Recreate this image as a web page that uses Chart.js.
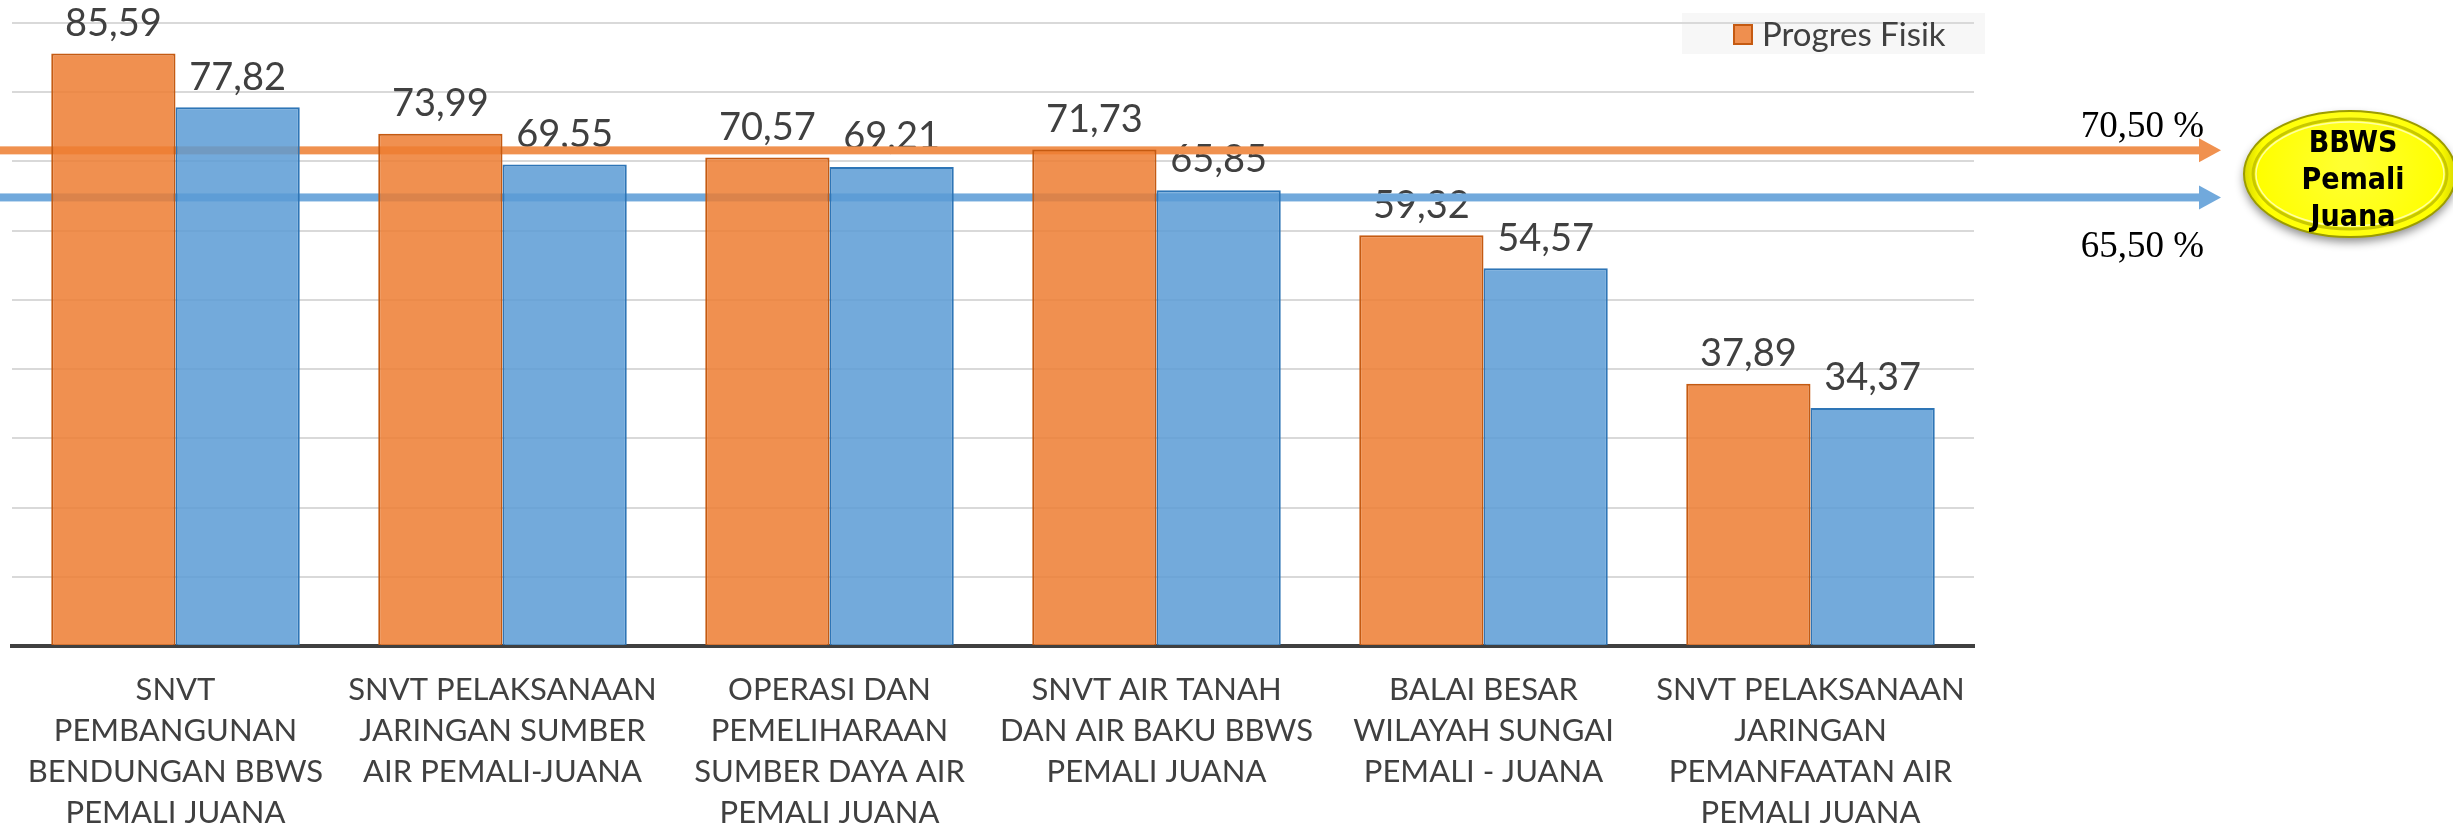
<!DOCTYPE html>
<html>
<head>
<meta charset="utf-8">
<script src="https://cdn.jsdelivr.net/npm/chart.js@4"></script>
<style>
  html, body { margin: 0; padding: 0; background: #fff; }
  #wrap { width: 2453px; height: 829px; position: relative; }
</style>
</head>
<body>
<div id="wrap"><canvas id="myChart"></canvas></div>
<script>
// ===== data
const units = [
  ['SNVT', 'PEMBANGUNAN', 'BENDUNGAN BBWS', 'PEMALI JUANA'],
  ['SNVT PELAKSANAAN', 'JARINGAN SUMBER', 'AIR PEMALI-JUANA'],
  ['OPERASI DAN', 'PEMELIHARAAN', 'SUMBER DAYA AIR', 'PEMALI JUANA'],
  ['SNVT AIR TANAH', 'DAN AIR BAKU BBWS', 'PEMALI JUANA'],
  ['BALAI BESAR', 'WILAYAH SUNGAI', 'PEMALI - JUANA'],
  ['SNVT PELAKSANAAN', 'JARINGAN', 'PEMANFAATAN AIR', 'PEMALI JUANA']
];
const progresFisik = [85.59, 73.99, 70.57, 71.73, 59.32, 37.89];
const progresKeuangan = [77.82, 69.55, 69.21, 65.85, 54.57, 34.37];
const yTicks = [0, 10, 20, 30, 40, 50, 60, 70, 80, 90];

// target arrows (drawn level, text shown next to it)
const targetLevels = [71.6, 64.8];
const targetTexts = ['70,50 %', '65,50 %'];
const badgeLines = ['BBWS', 'Pemali', 'Juana'];

const ORANGE = 'rgba(237,125,49,0.85)';
const BLUE = 'rgba(91,155,213,0.85)';
const ARROW_COLORS = ['#F0914F', '#71A9DC'];
const TXT = '#404040';

const fmt = v => v.toFixed(2).replace('.', ',');

// ===== extra drawing: legend box, value labels, arrows, badge
const extras = {
  id: 'extras',
  beforeDraw(chart) {
    const c = chart.ctx;
    c.save();
    c.fillStyle = '#fff';
    c.fillRect(0, 0, chart.width, chart.height);
    // legend background (gridline goes over it)
    c.fillStyle = '#f7f7f7';
    c.fillRect(1682, 13, 303, 41);
    c.restore();
  },
  beforeDatasetsDraw(chart) {
    const c = chart.ctx;
    const y = chart.scales.y;
    c.save();
    // value labels
    c.font = '38px Lato';
    c.fillStyle = TXT;
    c.textAlign = 'center';
    c.textBaseline = 'middle';
    chart.data.datasets.forEach((ds, di) => {
      chart.getDatasetMeta(di).data.forEach((bar, i) => {
        c.fillText(fmt(ds.data[i]), bar.x, bar.y - 30);
      });
    });
    // arrows
    const tipX = 2221;
    targetLevels.forEach((lvl, k) => {
      const py = y.getPixelForValue(lvl);
      c.fillStyle = ARROW_COLORS[k];
      c.fillRect(0, py - 4, tipX - 20, 8);
      c.beginPath();
      c.moveTo(tipX - 22, py - 12);
      c.lineTo(tipX, py);
      c.lineTo(tipX - 22, py + 12);
      c.closePath();
      c.fill();
    });
    c.restore();
  },
  afterDraw(chart) {
    const c = chart.ctx;
    const y = chart.scales.y;
    c.save();
    // legend entry
    c.fillStyle = ORANGE;
    c.strokeStyle = '#C55A11';
    c.lineWidth = 2;
    c.fillRect(1734, 25, 18, 19);
    c.strokeRect(1734, 25, 18, 19);
    c.font = '33px Lato';
    c.fillStyle = TXT;
    c.textAlign = 'left';
    c.textBaseline = 'middle';
    c.fillText(chart.data.datasets[0].label, 1762, 35);

    // target texts
    c.font = '37px "Liberation Serif"';
    c.fillStyle = '#000';
    c.textAlign = 'right';
    c.fillText(targetTexts[0], 2204, y.getPixelForValue(targetLevels[0]) - 23);
    c.fillText(targetTexts[1], 2204, y.getPixelForValue(targetLevels[1]) + 50);

    // yellow badge
    const cx = 2350, cy = 174, rx = 106, ry = 63;
    c.save();
    c.shadowColor = 'rgba(0,0,0,0.45)';
    c.shadowBlur = 10;
    c.shadowOffsetY = 5;
    const g = c.createRadialGradient(cx, cy - 10, 10, cx, cy, rx);
    g.addColorStop(0, '#FFFF30');
    g.addColorStop(0.85, '#FFFF00');
    g.addColorStop(1, '#D8D800');
    c.fillStyle = g;
    c.beginPath();
    c.ellipse(cx, cy, rx, ry, 0, 0, Math.PI * 2);
    c.fill();
    c.restore();
    c.strokeStyle = '#9C9C00';
    c.lineWidth = 2;
    c.beginPath();
    c.ellipse(cx, cy, rx, ry, 0, 0, Math.PI * 2);
    c.stroke();
    c.strokeStyle = '#C8C800';
    c.lineWidth = 3;
    c.beginPath();
    c.ellipse(cx, cy, rx - 9, ry - 8, 0, 0, Math.PI * 2);
    c.stroke();
    c.strokeStyle = 'rgba(255,255,200,0.8)';
    c.lineWidth = 1.5;
    c.beginPath();
    c.ellipse(cx, cy, rx - 12, ry - 11, 0, 0, Math.PI * 2);
    c.stroke();

    c.font = 'bold 30px "Liberation Sans Narrow", "DejaVu Sans Condensed", sans-serif';
    c.fillStyle = '#000';
    c.textAlign = 'center';
    badgeLines.forEach((t, i) => c.fillText(t, cx + 3, 144 + i * 37));
    c.restore();
  }
};

const ctx = document.getElementById('myChart');

new Chart(ctx, {
  type: 'bar',
  data: {
    labels: units,
    datasets: [{
      label: 'Progres Fisik',
      data: progresFisik,
      backgroundColor: ORANGE,
      borderColor: '#C55A11',
      borderWidth: 2,
      borderSkipped: 'bottom'
    }, {
      label: 'Progres Keuangan',
      data: progresKeuangan,
      backgroundColor: BLUE,
      borderColor: '#2E75B6',
      borderWidth: 2,
      borderSkipped: 'bottom'
    }]
  },
  options: {
    responsive: true,
    maintainAspectRatio: false,
    animation: false,
    categoryPercentage: 0.76,
    barPercentage: 1.0,
    layout: { padding: { left: 12, right: 479, top: 23, bottom: 0 } },
    plugins: {
      legend: { display: false },
      tooltip: { enabled: false }
    },
    scales: {
      x: {
        grid: { display: false, drawTicks: false },
        border: { display: true, color: '#404040', width: 4 },
        ticks: {
          color: TXT,
          font: { family: 'Lato', size: 31, lineHeight: 1.32 },
          padding: 24,
          maxRotation: 0,
          autoSkip: false
        },
        afterFit(scale) { scale.height = 183; }
      },
      y: {
        min: 0,
        max: 90,
        afterBuildTicks(scale) { scale.ticks = yTicks.map(v => ({ value: v })); },
        grid: { color: '#d9d9d9', lineWidth: 2, drawTicks: false },
        border: { display: false },
        ticks: { display: false },
        afterFit(scale) { scale.width = 0; }
      }
    }
  },
  plugins: [extras]
});
</script>
</body>
</html>
